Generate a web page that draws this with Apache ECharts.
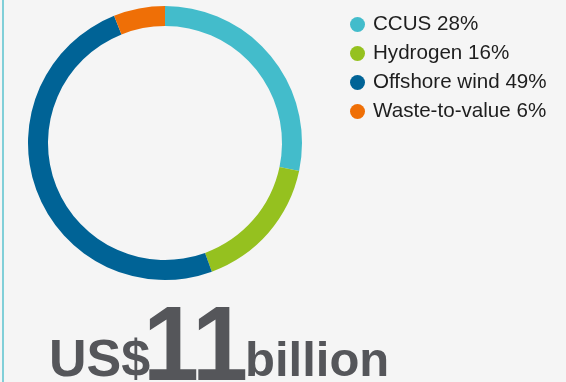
<!DOCTYPE html>
<html>
<head>
<meta charset="utf-8">
<script src="https://cdn.jsdelivr.net/npm/echarts@6/dist/echarts.min.js"></script>
<style>
  html, body { margin: 0; padding: 0; background: #f5f5f5; }
  #chart { width: 566px; height: 382px; }
</style>
</head>
<body>
<div id="chart"></div>
<script>
// Investment split by segment (percent of total)
const categories = ['CCUS', 'Hydrogen', 'Offshore wind', 'Waste-to-value'];
const shares = [28, 16, 49, 6];
const colors = ['#43bccb', '#95c11f', '#006396', '#ef6f06'];
const totalLabel = ['US$', '11', 'billion'];

const FONT = '"Liberation Sans", Arial, Helvetica, sans-serif';
const chart = echarts.init(document.getElementById('chart'), null, { renderer: 'canvas' });

const pieData = categories.map((name, i) => ({
  name: name,
  value: shares[i],
  itemStyle: { color: colors[i] }
}));

// The headline figure is set tight, one digit at a time
const digits = totalLabel[1].split('');
const digitX = [143, 192];
const digitText = digits.map((d, i) => ({
  type: 'text',
  x: digitX[i], y: 351,
  scaleX: 0.95,
  style: {
    text: d,
    font: 'bold 106px ' + FONT,
    fill: '#55565a',
    verticalAlign: 'middle'
  }
}));

chart.setOption({
  backgroundColor: '#f5f5f5',
  animation: false,
  legend: {
    orient: 'vertical',
    left: 345,
    top: 9,
    itemWidth: 15,
    itemHeight: 15,
    itemGap: 8,
    icon: 'circle',
    selectedMode: false,
    formatter: function (name) {
      const i = categories.indexOf(name);
      return name + ' ' + shares[i] + '%';
    },
    textStyle: {
      fontFamily: FONT,
      fontSize: 20.6,
      lineHeight: 20,
      color: '#1e1e1e',
      padding: [0, 0, 0, 3]
    }
  },
  series: [{
    type: 'pie',
    center: [165, 143],
    radius: [117, 137],
    startAngle: 90,
    clockwise: true,
    silent: true,
    label: { show: false },
    labelLine: { show: false },
    itemStyle: { borderWidth: 0 },
    data: pieData
  }],
  graphic: [
    {
      type: 'rect',
      shape: { x: 2, y: 0, width: 2, height: 382 },
      style: { fill: '#80cfd8' },
      silent: true
    },
    {
      type: 'text',
      x: 49, y: 362,
      style: {
        text: totalLabel[0],
        font: 'bold 52px ' + FONT,
        fill: '#55565a',
        verticalAlign: 'middle'
      }
    },
    ...digitText,
    {
      type: 'text',
      x: 245, y: 362,
      style: {
        text: totalLabel[2],
        font: 'bold 49px ' + FONT,
        fill: '#55565a',
        verticalAlign: 'middle'
      }
    }
  ]
});
</script>
</body>
</html>
